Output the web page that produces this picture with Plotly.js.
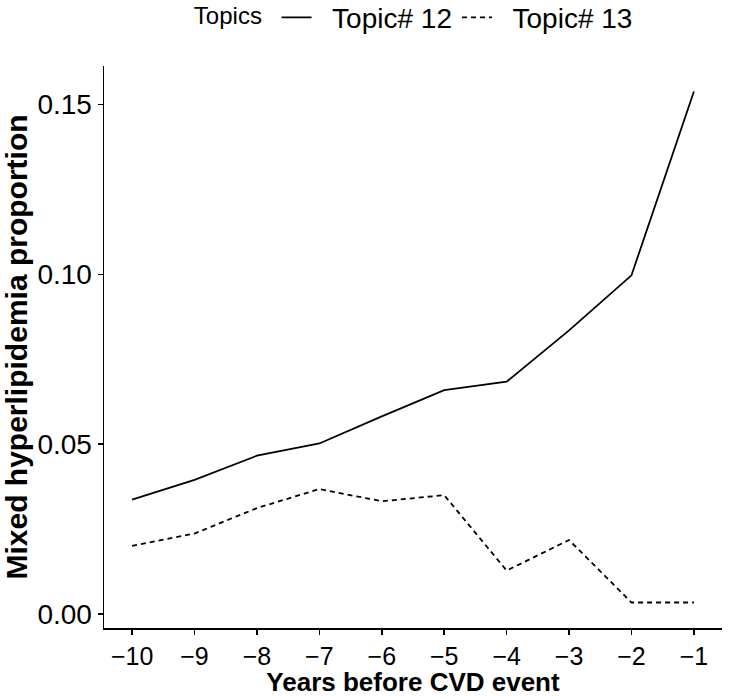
<!DOCTYPE html>
<html>
<head>
<meta charset="utf-8">
<script src="https://cdn.plot.ly/plotly-3.0.1.min.js"></script>
<style>html,body{margin:0;padding:0;background:#fff;}#chart{width:729px;height:697px;}</style>
</head>
<body>
<div id="chart"></div>
<script>
const years = [-10, -9, -8, -7, -6, -5, -4, -3, -2, -1];
const topic12 = [0.0337, 0.0395, 0.0466, 0.0502, 0.0582, 0.0659, 0.0684, 0.0835, 0.0997, 0.1538];
const topic13 = [0.0201, 0.0237, 0.0312, 0.0368, 0.0332, 0.0350, 0.0128, 0.0218, 0.0034, 0.0034];
const seriesNames = ["Topic# 12", "Topic# 13"];
const xTicks = [-10, -9, -8, -7, -6, -5, -4, -3, -2, -1];
const xTickText = ["\u221210", "\u22129", "\u22128", "\u22127", "\u22126", "\u22125", "\u22124", "\u22123", "\u22122", "\u22121"];
const yTicks = [0, 0.05, 0.10, 0.15];
const yTickText = ["0.00", "0.05", "0.10", "0.15"];

const font = "Liberation Sans, Arial, sans-serif";
const pad = "\u00a0\u00a0";
const traces = [
  {x: years, y: topic12, name: pad + seriesNames[0], type: "scatter", mode: "lines",
   line: {color: "#000", width: 1.8, dash: "solid"}},
  {x: years, y: topic13, name: pad + seriesNames[1], type: "scatter", mode: "lines",
   line: {color: "#000", width: 1.8, dash: "5px,4px"}}
];
const layout = {
  width: 729, height: 697,
  margin: {l: 104, r: 7, t: 66, b: 69, autoexpand: false},
  paper_bgcolor: "#fff", plot_bgcolor: "#fff",
  font: {family: font, color: "#000"},
  showlegend: true,
  legend: {orientation: "h", x: 0.503, xanchor: "center", y: 1.086, yanchor: "middle",
    font: {size: 28, family: font, color: "#000"},
    title: {text: "Topics\u00a0", side: "left", font: {size: 24, family: font, color: "#000"}},
    itemwidth: 30, tracegroupgap: 0, bgcolor: "rgba(0,0,0,0)"},
  xaxis: {range: [-10.45, -0.55], tickmode: "array", tickvals: xTicks, ticktext: xTickText,
    showgrid: false, zeroline: false, showline: true, linecolor: "#000", linewidth: 1.5,
    ticks: "outside", ticklen: 5, tickwidth: 1.5, tickcolor: "#000",
    tickfont: {size: 25, family: font, color: "#000"},
    title: {text: "<b>Years before CVD event</b>", font: {size: 26, family: font, color: "#000"}, standoff: 6}},
  yaxis: {range: [-0.0041, 0.1613], tickmode: "array", tickvals: yTicks, ticktext: yTickText,
    showgrid: false, zeroline: false, showline: true, linecolor: "#000", linewidth: 1.5,
    ticks: "outside", ticklen: 5, tickwidth: 1.5, tickcolor: "#000",
    tickfont: {size: 28, family: font, color: "#000"},
    title: {text: "<b>Mixed hyperlipidemia proportion</b>", font: {size: 30, family: font, color: "#000"}, standoff: 4}}
};
Plotly.newPlot("chart", traces, layout, {displayModeBar: false, staticPlot: true});
</script>
</body>
</html>
